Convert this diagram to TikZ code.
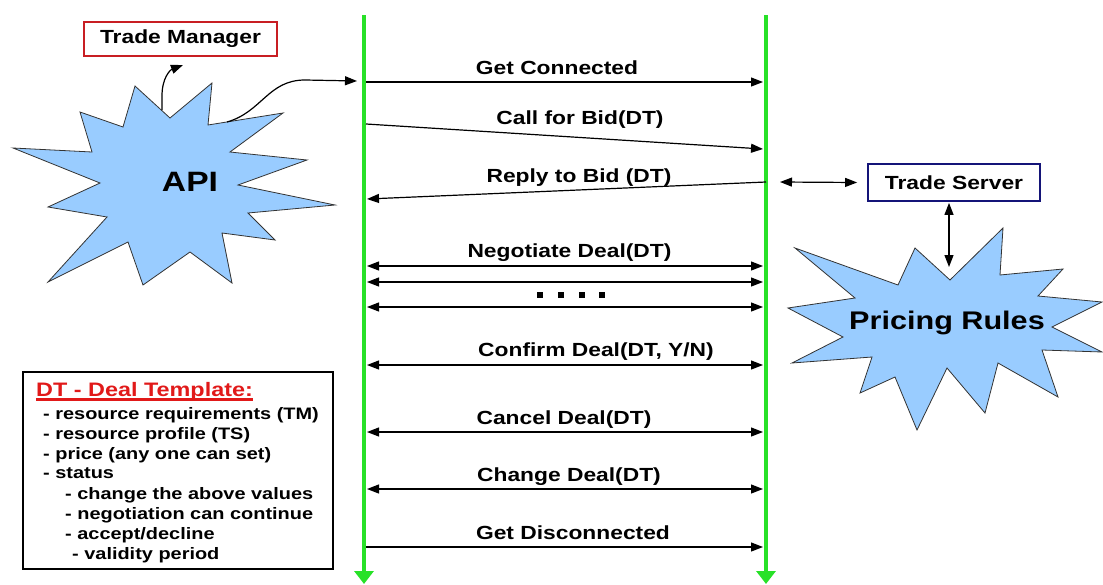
\documentclass[tikz,border=0pt]{standalone}
\usepackage{fontspec}
\setmainfont{Liberation Sans}[FakeStretch=1.2]
\usetikzlibrary{arrows.meta}
\definecolor{life}{RGB}{40,225,40}
\definecolor{starfill}{RGB}{153,204,255}
\definecolor{tmred}{RGB}{200,30,35}
\definecolor{tsnavy}{RGB}{20,20,120}
\definecolor{dtred}{RGB}{225,25,25}
\begin{document}
\begin{tikzpicture}[x=1pt,y=-1pt,
  lifeline/.style={line width=4.5pt, draw=life, -{Triangle[length=13pt,width=19pt]}},
  tip/.tip={Triangle[length=12pt,width=9pt]},
  msg/.style={line width=1.2pt, -tip},
  msgboth/.style={line width=1.2pt, tip-tip},
  lbl/.style={font=\fontsize{19}{22}\selectfont\bfseries, inner sep=0pt, anchor=base},
  star/.style={draw=black!80, line width=0.8pt, fill=starfill, line join=miter},
  startext/.style={font=\fontsize{#1}{#1}\selectfont\bfseries, inner sep=0pt},
  actor/.style={line width=1.8pt, fill=white, font=\fontsize{19}{22}\selectfont\bfseries, inner sep=0pt},
  dtline/.style={font=\fontsize{16.6}{20}\selectfont\bfseries, inner sep=0pt, anchor=base west},
]
\useasboundingbox (0,0) rectangle (1103,584);

% lifelines
\coordinate (Ltop) at (364,15);
\coordinate (Lbot) at (364,584);
\coordinate (Rtop) at (766,15);
\coordinate (Rbot) at (766,584);
\draw[lifeline] (Ltop) -- (Lbot);
\draw[lifeline] (Rtop) -- (Rbot);

% API starburst
\draw[star] (13,148) -- (92,152) -- (80,112) -- (123,127) -- (135,86) -- (170,118)
  -- (212,83) -- (208,125) -- (283,113) -- (230,152) -- (307,160) -- (238,185)
  -- (335,205) -- (248,213) -- (275,240) -- (222,233) -- (232,283) -- (190,252)
  -- (143,285) -- (128,242) -- (48,282) -- (107,217) -- (48,207) -- (100,183) -- cycle;
\node[startext=28] (api) at (190,182) {API};

% Pricing Rules starburst
\draw[star] (795,248) -- (898,285) -- (915,248) -- (950,280) -- (1003,228) -- (1000,275)
  -- (1063,269) -- (1038,296) -- (1102,302) -- (1052,327) -- (1102,352) -- (1042,350)
  -- (1058,397) -- (998,363) -- (985,413) -- (947,368) -- (917,430) -- (895,377)
  -- (860,393) -- (872,357) -- (792,363) -- (843,337) -- (788,308) -- (855,298) -- cycle;
\node[startext=25.5] (pricing) at (947,323) {Pricing Rules};

% actor boxes
\node[actor, draw=tmred, minimum width=193pt, minimum height=34pt] (tm) at (180.5,39) {Trade Manager};
\node[actor, draw=tsnavy, minimum width=172pt, minimum height=37pt] (ts) at (954,182.5) {Trade Server};

% API links
\coordinate (apiTop) at (162,110);
\coordinate (tmIn) at (183,65);
\draw[msg] (apiTop) -- (162,96) .. controls (162,78) and (170,70) .. (tmIn);
\coordinate (apiRight) at (227,122);
\coordinate (connIn) at (357,81);
\draw[msg] (apiRight) .. controls (262,112) and (268,80) .. (305,80) -- (connIn);

% messages
\coordinate (L1) at (366,82);  \coordinate (R1) at (763,82);
\coordinate (L2) at (366,124); \coordinate (R2) at (763,149);
\coordinate (R3) at (766,182); \coordinate (L3) at (367,199);
\coordinate (L4) at (367,266); \coordinate (R4) at (763,266);
\coordinate (L5) at (367,282); \coordinate (R5) at (763,282);
\coordinate (L6) at (367,307); \coordinate (R6) at (763,307);
\coordinate (L7) at (367,365); \coordinate (R7) at (763,365);
\coordinate (L8) at (367,432); \coordinate (R8) at (763,432);
\coordinate (L9) at (367,489); \coordinate (R9) at (763,489);
\coordinate (L10) at (366,547); \coordinate (R10) at (763,547);

\draw[msg] (L1) -- (R1);
\draw[msg] (L2) -- (R2);
\draw[msg] (R3) -- (L3);
\draw[msgboth] (L4) -- (R4);
\draw[msgboth] (L5) -- (R5);
\draw[msgboth] (L6) -- (R6);
\draw[msgboth] (L7) -- (R7);
\draw[msgboth] (L8) -- (R8);
\draw[msgboth] (L9) -- (R9);
\draw[msg] (L10) -- (R10);

\node[lbl] (t1) at (557,74) {Get Connected};
\node[lbl] (t2) at (580,124) {Call for Bid(DT)};
\node[lbl] (t3) at (579,182) {Reply to Bid (DT)};
\node[lbl] (t4) at (569.5,257) {Negotiate Deal(DT)};
\node[lbl] (t7) at (596,356) {Confirm Deal(DT, Y/N)};
\node[lbl] (t8) at (564,424) {Cancel Deal(DT)};
\node[lbl] (t9) at (569,481) {Change Deal(DT)};
\node[lbl] (t10) at (573,539) {Get Disconnected};

% ellipsis between negotiation rounds
\foreach \x in {540,561,582,602}
  \fill (\x-3,292) rectangle (\x+3,298);

% Trade Server links
\coordinate (srvOut) at (780,182);
\draw[msgboth] (srvOut) -- ([xshift=-10pt]ts.west);
\coordinate (prTop) at (949,267);
\draw[msgboth] ([xshift=-5pt,yshift=-1pt]ts.south) -- (prTop);

% deal template legend
\node[draw, line width=1.3pt, minimum width=310pt, minimum height=197pt] (dtbox) at (178,470.5) {};
\node[font=\fontsize{19.5}{20}\selectfont\bfseries, text=dtred, inner sep=0pt, anchor=base west] (dttitle) at (36,396) {DT - Deal Template:};
\draw[dtred, line width=2.5pt] ([yshift=-3.5pt]dttitle.base west) -- ([yshift=-3.5pt]dttitle.base east);
\node[dtline] (d1) at (43,419) {- resource requirements (TM)};
\node[dtline] (d2) at (43,439) {- resource profile (TS)};
\node[dtline] (d3) at (43,459) {- price (any one can set)};
\node[dtline] (d4) at (43,478) {- status};
\node[dtline] (d5) at (65,499) {- change the above values};
\node[dtline] (d6) at (65,519) {- negotiation can continue};
\node[dtline] (d7) at (65,539) {- accept/decline};
\node[dtline] (d8) at (72,559) {- validity period};
\end{tikzpicture}
\end{document}
